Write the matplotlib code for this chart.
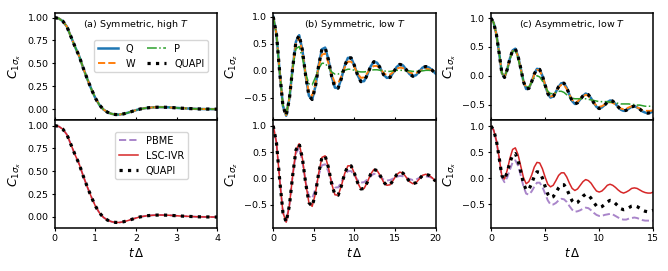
import numpy as np
import matplotlib
matplotlib.use("Agg")
import matplotlib.pyplot as plt

# ---- data ----
# (a) symmetric, high T : t from 0 to 4, step 0.1
a_t = np.linspace(0, 4, 41)
a_C = [1.00, 0.99, 0.96, 0.90, 0.79, 0.68, 0.58, 0.45, 0.33, 0.22,
       0.12, 0.045, -0.005, -0.035, -0.052, -0.06, -0.06, -0.052, -0.04, -0.026,
       -0.012, 0.0, 0.008, 0.014, 0.018, 0.02, 0.021, 0.02, 0.019, 0.016,
       0.013, 0.01, 0.008, 0.006, 0.004, 0.002, 0.001, 0.0, 0.0, -0.001,
       -0.001]

# (b) symmetric, low T : t from 0 to 20, step 0.4
b_t = np.linspace(0, 20, 51)
b_Q = [1.00, 0.68, -0.03, -0.65, -0.83, -0.51, 0.06, 0.54, 0.66, 0.38,
       -0.09, -0.46, -0.53, -0.29, 0.10, 0.40, 0.43, 0.21, -0.10, -0.31,
       -0.32, -0.14, 0.09, 0.24, 0.24, 0.10, -0.08, -0.20, -0.19, -0.07,
       0.08, 0.17, 0.15, 0.05, -0.07, -0.13, -0.12, -0.03, 0.07, 0.12,
       0.10, 0.02, -0.06, -0.10, -0.08, -0.01, 0.06, 0.08, 0.06, 0.01,
       -0.05]
b_W = [1.00, 0.68, -0.03, -0.64, -0.82, -0.50, 0.06, 0.50, 0.61, 0.35,
       -0.08, -0.41, -0.46, -0.24, 0.08, 0.30, 0.32, 0.15, -0.07, -0.22,
       -0.23, -0.10, 0.06, 0.17, 0.17, 0.07, -0.05, -0.13, -0.12, -0.04,
       0.05, 0.09, 0.09, 0.03, -0.04, -0.08, -0.07, -0.02, 0.04, 0.06,
       0.05, 0.01, -0.03, -0.05, -0.04, -0.01, 0.02, 0.04, 0.03, 0.00,
       -0.02]
b_P = [1.00, 0.67, -0.03, -0.63, -0.80, -0.47, 0.05, 0.41, 0.45, 0.24,
       -0.05, -0.24, -0.26, -0.12, 0.04, 0.14, 0.14, 0.06, -0.02, -0.06,
       -0.06, -0.02, 0.01, 0.03, 0.03, 0.01, -0.01, -0.02, -0.02, -0.01,
       0.01, 0.02, 0.02, 0.01, 0.00, -0.01, -0.01, 0.00, 0.01, 0.01,
       0.01, 0.00, 0.00, -0.01, -0.01, 0.00, 0.00, 0.01, 0.01, 0.00,
       0.00]
b_pbme = [1.00, 0.68, -0.03, -0.64, -0.82, -0.49, 0.06, 0.48, 0.58, 0.32,
          -0.07, -0.34, -0.38, -0.20, 0.06, 0.25, 0.27, 0.13, -0.06, -0.17,
          -0.17, -0.07, 0.06, 0.14, 0.14, 0.06, -0.03, -0.08, -0.07, -0.02,
          0.04, 0.09, 0.07, 0.03, -0.02, -0.04, -0.03, 0.00, 0.03, 0.05,
          0.04, 0.01, -0.01, -0.03, -0.02, 0.01, 0.03, 0.04, 0.03, 0.01,
          -0.01]

# (c) asymmetric, low T : t from 0 to 15, step 0.25
c_t = np.linspace(0, 15, 61)
c_Q = [1.00, 0.92, 0.72, 0.40, 0.05, -0.03, 0.11, 0.30, 0.44, 0.47,
       0.34, 0.13, -0.10, -0.23, -0.22, -0.11, 0.03, 0.12, 0.11, 0.00,
       -0.16, -0.31, -0.38, -0.36, -0.28, -0.19, -0.13, -0.13, -0.21, -0.33,
       -0.44, -0.49, -0.47, -0.41, -0.35, -0.31, -0.33, -0.39, -0.47, -0.54,
       -0.57, -0.55, -0.51, -0.46, -0.43, -0.44, -0.49, -0.54, -0.59, -0.61,
       -0.60, -0.57, -0.54, -0.53, -0.55, -0.58, -0.62, -0.64, -0.65, -0.64,
       -0.62]
c_W = [1.00, 0.92, 0.72, 0.40, 0.05, -0.03, 0.11, 0.29, 0.43, 0.46,
       0.33, 0.12, -0.09, -0.21, -0.21, -0.11, 0.02, 0.10, 0.09, -0.01,
       -0.15, -0.29, -0.36, -0.35, -0.28, -0.20, -0.16, -0.16, -0.23, -0.33,
       -0.42, -0.46, -0.45, -0.40, -0.36, -0.33, -0.35, -0.40, -0.47, -0.52,
       -0.54, -0.53, -0.50, -0.47, -0.46, -0.47, -0.50, -0.54, -0.57, -0.58,
       -0.57, -0.55, -0.53, -0.53, -0.55, -0.57, -0.60, -0.61, -0.61, -0.61,
       -0.60]
c_P = [1.00, 0.92, 0.72, 0.40, 0.05, -0.03, 0.11, 0.29, 0.42, 0.44,
       0.31, 0.10, -0.09, -0.19, -0.20, -0.12, -0.04, 0.00, -0.02, -0.09,
       -0.19, -0.27, -0.31, -0.31, -0.29, -0.27, -0.27, -0.29, -0.33, -0.37,
       -0.39, -0.40, -0.40, -0.40, -0.40, -0.40, -0.41, -0.42, -0.43, -0.44,
       -0.45, -0.45, -0.45, -0.45, -0.46, -0.46, -0.47, -0.48, -0.49, -0.49,
       -0.49, -0.49, -0.50, -0.50, -0.51, -0.51, -0.52, -0.53, -0.53, -0.53,
       -0.54]
c_lsc = [1.00, 0.92, 0.72, 0.40, 0.04, -0.02, 0.15, 0.38, 0.55, 0.58,
         0.45, 0.23, 0.01, -0.11, -0.07, 0.05, 0.21, 0.30, 0.29, 0.18,
         0.02, -0.12, -0.17, -0.14, -0.05, 0.05, 0.10, 0.10, 0.02, -0.10,
         -0.20, -0.24, -0.21, -0.14, -0.07, -0.03, -0.05, -0.10, -0.18, -0.25,
         -0.27, -0.25, -0.20, -0.14, -0.12, -0.14, -0.18, -0.23, -0.27, -0.29,
         -0.27, -0.24, -0.20, -0.19, -0.20, -0.23, -0.26, -0.28, -0.29, -0.29,
         -0.27]
c_pbme = [1.00, 0.92, 0.71, 0.38, 0.01, -0.08, 0.01, 0.16, 0.30, 0.34,
          0.24, 0.05, -0.16, -0.30, -0.32, -0.26, -0.17, -0.09, -0.09, -0.17,
          -0.30, -0.43, -0.51, -0.51, -0.48, -0.43, -0.40, -0.41, -0.46, -0.54,
          -0.61, -0.65, -0.64, -0.62, -0.59, -0.57, -0.58, -0.62, -0.67, -0.71,
          -0.73, -0.73, -0.71, -0.70, -0.69, -0.70, -0.73, -0.76, -0.79, -0.80,
          -0.80, -0.78, -0.77, -0.76, -0.77, -0.79, -0.81, -0.82, -0.82, -0.82,
          -0.82]

titles = ["(a) Symmetric, high $T$", "(b) Symmetric, low $T$", "(c) Asymmetric, low $T$"]
ylabels = [r"$C_{1\sigma_x}$", r"$C_{1\sigma_z}$", r"$C_{1\sigma_x}$"]

# ---- figure ----
fig = plt.figure(figsize=(6.68, 2.71), dpi=100)
lefts = [0.082, 0.409, 0.735]
w = 0.243
top_b, mid, bot = 0.952, 0.557, 0.159
axes_top = [fig.add_axes([l, mid, w, top_b - mid]) for l in lefts]
axes_bot = [fig.add_axes([l, bot, w, mid - bot]) for l in lefts]

panels = [
    (a_t, dict(Q=a_C, W=a_C, P=a_C, QUAPI=a_C, PBME=a_C, LSC=a_C)),
    (b_t, dict(Q=b_Q, W=b_W, P=b_P, QUAPI=b_Q, PBME=b_pbme, LSC=b_Q)),
    (c_t, dict(Q=c_Q, W=c_W, P=c_P, QUAPI=c_Q, PBME=c_pbme, LSC=c_lsc)),
]
xlims = [(0, 4), (0, 20), (0, 15)]
xticks = [[0, 1, 2, 3, 4], [0, 5, 10, 15, 20], [0, 5, 10, 15]]
ylims_top = [(-0.12, 1.05), (-0.91, 1.07), (-0.77, 1.09)]
ylims_bot = [(-0.12, 1.06), (-0.94, 1.11), (-0.96, 1.115)]

for i, (t, d) in enumerate(panels):
    ax = axes_top[i]
    ax.plot(t, d["Q"], color="tab:blue", lw=1.8, label="Q")
    ax.plot(t, d["W"], color="tab:orange", ls="--", lw=1.4, label="W")
    ax.plot(t, d["P"], color="tab:green", ls="-.", lw=1.1, label="P")
    ax.plot(t, d["QUAPI"], color="black", ls=":", lw=2.3, label="QUAPI")

    ax2 = axes_bot[i]
    ax2.plot(t, d["PBME"], color="tab:purple", ls="--", lw=1.4, alpha=0.8, label="PBME")
    ax2.plot(t, d["LSC"], color="tab:red", lw=1.1, label="LSC-IVR")
    ax2.plot(t, d["QUAPI"], color="black", ls=":", lw=2.3, label="QUAPI")

    for a in (ax, ax2):
        a.set_xlim(*xlims[i])
        a.set_xticks(xticks[i])
        a.set_ylabel(ylabels[i], fontsize=9, labelpad=3)
        a.tick_params(labelsize=6.8, length=2.5, pad=2)
        for s in a.spines.values():
            s.set_linewidth(1.1)
    ax.set_ylim(*ylims_top[i])
    ax2.set_ylim(*ylims_bot[i])
    ax.tick_params(axis="x", direction="in", labelbottom=False)
    ax2.set_xlabel(r"$t\,\Delta$", fontsize=8.5, labelpad=3)
    ax.text(0.5, 0.89, titles[i], transform=ax.transAxes, ha="center", va="center", fontsize=6.8)

axes_top[0].set_yticks([0, 0.25, 0.5, 0.75, 1.0])
axes_bot[0].set_yticks([0, 0.25, 0.5, 0.75, 1.0])
for ax in axes_top[1:] + axes_bot[1:]:
    ax.set_yticks([-0.5, 0.0, 0.5, 1.0])

h, l = axes_top[0].get_legend_handles_labels()
axes_top[0].legend(h, l, ncol=2, loc="upper right", bbox_to_anchor=(0.945, 0.75),
                   borderaxespad=0, fontsize=7, handlelength=2, columnspacing=1.2)
axes_bot[0].legend(loc="upper right", bbox_to_anchor=(0.82, 0.89),
                   borderaxespad=0, fontsize=7, handlelength=2)

fig.savefig("out.png", dpi=100)
